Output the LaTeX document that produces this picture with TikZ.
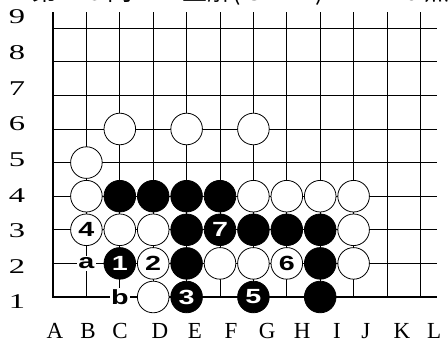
\documentclass[tikz,border=0pt]{standalone}
\usepackage{fontspec}
\newfontfamily\stonefont{Liberation Sans}[FakeStretch=1.4]
\newfontfamily\rowfont{Liberation Serif}[FakeStretch=1.55]
\newfontfamily\colfont{Liberation Serif}
\newfontfamily\jpfont{Noto Sans CJK JP}

\begin{document}
\begin{tikzpicture}[
  x=33.4pt, y=33.6pt,
  grid/.style={line width=0.8pt},
  edge/.style={line width=2.6pt},
  stone/.style={circle, draw, line width=0.8pt, minimum size=31.6pt, inner sep=0pt,
                font=\stonefont\bfseries\fontsize{20.5}{20.5}\selectfont},
  bstone/.style={stone, fill=black, text=white},
  wstone/.style={stone, fill=white},
  spot/.style={fill=white, inner sep=1.5pt,
               font=\stonefont\bfseries\fontsize{20.5}{20.5}\selectfont},
  rowlbl/.style={font=\rowfont\fontsize{21}{24}\selectfont, inner sep=0pt},
  collbl/.style={font=\colfont\fontsize{23}{25}\selectfont, inner sep=0pt}
]
\useasboundingbox (-1.587,-1.399) rectangle (11.826,8.839);
\clip (-1.587,-1.399) rectangle (11.826,8.839);
\node[anchor=base west, inner sep=0pt, font=\jpfont\fontsize{25}{25}\selectfont]
  (title) at (-0.63,8.82) {第１８問　　正解(Ｃ－２)　　１０点};

\foreach \c in {1,...,11} \draw[grid] (\c,0) -- (\c,8.48);
\foreach \r in {1,...,8} \draw[grid] (0,\r) -- (11.5,\r);
\draw[edge] (0,8.48) -- (0,0) -- (11.5,0);

\foreach \r in {1,...,9}
  \node[rowlbl] (row\r) at (-1.078,{1.06*(\r-1)-0.15}) {\r};
\foreach \l/\x in {A/0.06, B/1.05, C/2.01, D/3.20, E/4.25, F/5.33,
                   G/6.41, H/7.46, I/8.50, J/9.37, K/10.45, L/11.41}
  \node[collbl] (col\l) at (\x,-1.02) {\l};

\foreach \n/\c/\r in {C6/2/5, E6/4/5, G6/6/5, B5/1/4, B4/1/3, G4/6/3, H4/7/3,
                      I4/8/3, J4/9/3, C3/2/2, D3/3/2, J3/9/2, F2/5/1, G2/6/1,
                      J2/9/1, D1/3/0}
  \node[wstone] (\n) at (\c,\r) {};
\foreach \n/\c/\r/\t in {B3/1/2/4, D2/3/1/2, H2/7/1/6}
  \node[wstone] (\n) at (\c,\r) {\t};

\foreach \n/\c/\r in {C4/2/3, D4/3/3, E4/4/3, F4/5/3, E3/4/2, G3/6/2, H3/7/2,
                      I3/8/2, E2/4/1, I2/8/1, I1/8/0}
  \node[bstone] (\n) at (\c,\r) {};
\foreach \n/\c/\r/\t in {C2/2/1/1, F3/5/2/7, E1/4/0/3, G1/6/0/5}
  \node[bstone] (\n) at (\c,\r) {\t};

\node[spot] (B2) at (1,1) {a};
\node[spot] (C1) at (2,0) {b};
\end{tikzpicture}
\end{document}
